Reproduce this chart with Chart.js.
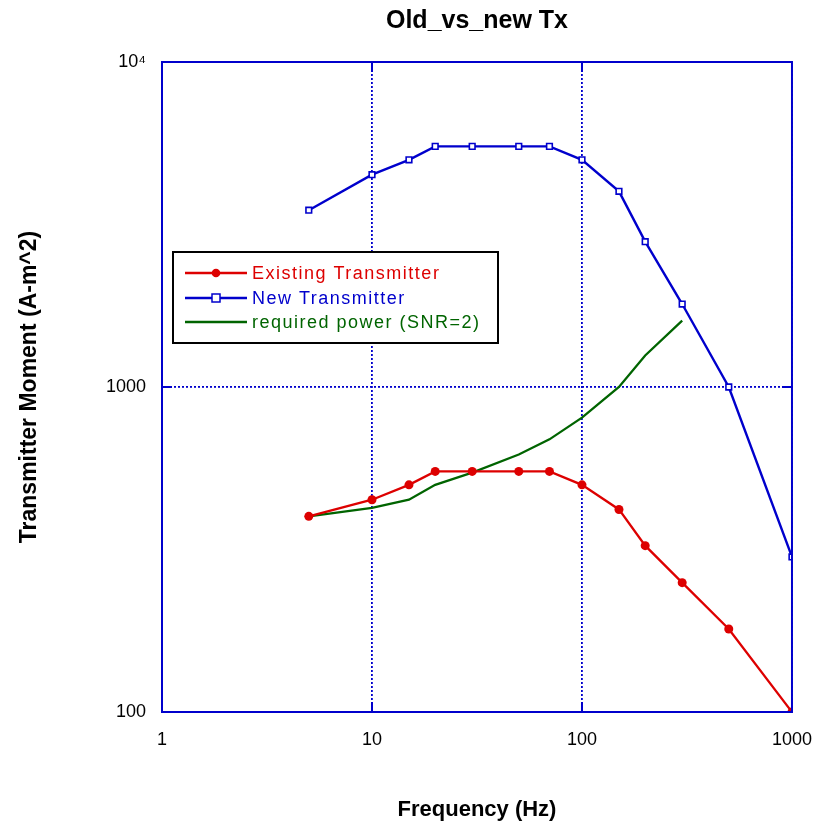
<!DOCTYPE html>
<html>
<head>
<meta charset="utf-8">
<title>Old_vs_new Tx</title>
<script src="https://cdn.jsdelivr.net/npm/chart.js@4/dist/chart.umd.min.js"></script>
<style>
  html, body { margin: 0; padding: 0; background: #fff; }
  #wrap { width: 829px; height: 823px; position: relative; }
</style>
</head>
<body>
<div id="wrap"><canvas id="chart" width="829" height="823"></canvas></div>
<script>
// Frequency (Hz) sample points
const freqs = [5, 10, 15, 20, 30, 50, 70, 100, 150, 200, 300, 500, 1000];
const existingTx = [400, 450, 500, 550, 550, 550, 550, 500, 420, 325, 250, 180, 100];
const newTx = [3500, 4500, 5000, 5500, 5500, 5500, 5500, 5000, 4000, 2800, 1800, 1000, 300];
// required power only runs to 300 Hz
const reqFreqs = [5, 10, 15, 20, 30, 50, 70, 100, 150, 200, 300];
const reqPower = [400, 425, 450, 500, 545, 620, 690, 805, 1000, 1250, 1600];

const xTicks = [1, 10, 100, 1000];
const yTicks = [100, 1000, 10000];
const yTickLabels = ['100', '1000', '10\u2074'];

const BLUE = '#0000cc';
const RED = '#dd0000';
const GREEN = '#006400';
const FONT = 'Arial, "Liberation Sans", Helvetica, sans-serif';

const toXY = (xs, ys) => xs.map((x, i) => ({ x: x, y: ys[i] }));

// draws the title, full plot frame, inward ticks and the boxed legend
const framePlugin = {
  id: 'frame',
  afterDraw(chart) {
    const { ctx, chartArea: a, scales } = chart;
    ctx.save();
    // title, centred over the plot area
    ctx.fillStyle = '#000';
    ctx.font = 'bold 25px ' + FONT;
    ctx.textAlign = 'center';
    ctx.textBaseline = 'middle';
    ctx.fillText('Old_vs_new Tx', (a.left + a.right) / 2, 21);

    // frame
    ctx.strokeStyle = BLUE;
    ctx.lineWidth = 2;
    ctx.strokeRect(a.left, a.top, a.right - a.left, a.bottom - a.top);

    // short solid ticks pointing inward at each decade
    ctx.beginPath();
    xTicks.slice(1, -1).forEach(v => {
      const px = scales.x.getPixelForValue(v);
      ctx.moveTo(px, a.top); ctx.lineTo(px, a.top + 10);
      ctx.moveTo(px, a.bottom); ctx.lineTo(px, a.bottom - 10);
    });
    yTicks.slice(1, -1).forEach(v => {
      const py = scales.y.getPixelForValue(v);
      ctx.moveTo(a.left, py); ctx.lineTo(a.left + 10, py);
      ctx.moveTo(a.right, py); ctx.lineTo(a.right - 10, py);
    });
    ctx.stroke();

    // legend box
    const bx = 173, by = 252, bw = 325, bh = 91;
    ctx.fillStyle = '#fff';
    ctx.fillRect(bx, by, bw, bh);
    ctx.strokeStyle = '#000';
    ctx.lineWidth = 2;
    ctx.strokeRect(bx, by, bw, bh);

    ctx.font = '18px ' + FONT;
    ctx.letterSpacing = '1.5px';
    ctx.textAlign = 'left';
    const rows = [273, 298, 322];
    chart.data.datasets.forEach((ds, i) => {
      const y = rows[i];
      ctx.strokeStyle = ds.borderColor;
      ctx.lineWidth = 2.3;
      ctx.beginPath();
      ctx.moveTo(bx + 12, y); ctx.lineTo(bx + 74, y);
      ctx.stroke();
      if (ds.pointStyle === 'circle') {
        ctx.fillStyle = ds.borderColor;
        ctx.beginPath();
        ctx.arc(bx + 43, y, 4.3, 0, Math.PI * 2);
        ctx.fill();
      } else if (ds.pointStyle === 'rect') {
        ctx.fillStyle = '#fff';
        ctx.fillRect(bx + 39, y - 4, 8, 8);
        ctx.lineWidth = 1.5;
        ctx.strokeRect(bx + 39, y - 4, 8, 8);
      }
      ctx.fillStyle = ds.borderColor;
      ctx.fillText(ds.label, bx + 79, y + 1);
    });
    ctx.restore();
  }
};

new Chart(document.getElementById('chart'), {
  type: 'line',
  data: {
    datasets: [
      {
        label: 'Existing Transmitter',
        data: toXY(freqs, existingTx),
        borderColor: RED,
        backgroundColor: RED,
        borderWidth: 2.3,
        pointStyle: 'circle',
        pointRadius: 4.5,
        pointBorderWidth: 0,
        pointBackgroundColor: RED
      },
      {
        label: 'New Transmitter',
        data: toXY(freqs, newTx),
        borderColor: BLUE,
        backgroundColor: '#fff',
        borderWidth: 2.4,
        pointStyle: 'rect',
        pointRadius: 4,
        pointBorderWidth: 1.6,
        pointBackgroundColor: '#fff',
        pointBorderColor: BLUE
      },
      {
        label: 'required power (SNR=2)',
        data: toXY(reqFreqs, reqPower),
        borderColor: GREEN,
        backgroundColor: GREEN,
        borderWidth: 2.3,
        pointStyle: false,
        pointRadius: 0
      }
    ]
  },
  options: {
    responsive: false,
    animation: false,
    layout: { padding: { top: 62, right: 36, bottom: 0, left: 0 } },
    plugins: {
      legend: { display: false },
      title: { display: false },
      tooltip: { enabled: false }
    },
    scales: {
      x: {
        type: 'logarithmic',
        min: 1,
        max: 1000,
        afterBuildTicks: s => { s.ticks = xTicks.map(v => ({ value: v })); },
        afterFit: s => { s.height = 111; },
        ticks: {
          color: '#000',
          font: { family: FONT, size: 18 },
          padding: 17,
          maxRotation: 0,
          autoSkip: false,
          callback: v => String(v)
        },
        grid: { color: BLUE, lineWidth: 1.8, drawTicks: false },
        border: { display: false, dash: [2, 2] },
        title: {
          display: true,
          text: 'Frequency (Hz)',
          color: '#000',
          font: { family: FONT, size: 22, weight: 'bold' },
          padding: { top: 0, bottom: 0 }
        }
      },
      y: {
        type: 'logarithmic',
        min: 100,
        max: 10000,
        afterBuildTicks: s => { s.ticks = yTicks.map(v => ({ value: v })); },
        afterFit: s => { s.width = 162; },
        ticks: {
          color: '#000',
          font: { family: FONT, size: 18 },
          padding: 16,
          autoSkip: false,
          callback: v => yTickLabels[yTicks.indexOf(v)]
        },
        grid: { color: BLUE, lineWidth: 1.8, drawTicks: false },
        border: { display: false, dash: [2, 2] },
        title: {
          display: true,
          text: 'Transmitter Moment (A-m^2)',
          color: '#000',
          font: { family: FONT, size: 23, weight: 'bold' },
          padding: { top: 16, bottom: 0 }
        }
      }
    }
  },
  plugins: [framePlugin]
});
</script>
</body>
</html>
